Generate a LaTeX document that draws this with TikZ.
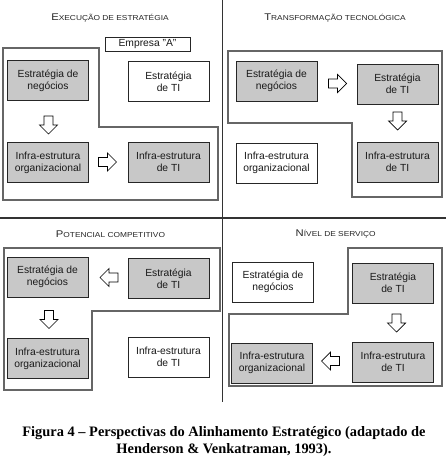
\documentclass[tikz,border=0pt]{standalone}
\usepackage{fontspec}
\usepackage{graphicx}
\setmainfont{Liberation Sans}
\newfontfamily\capfont{Liberation Serif}
\definecolor{boxgray}{RGB}{200,200,200}
\newcommand\smcap[3]{\scalebox{#3}[1]{{\fontsize{9.7}{10}\selectfont #1}{\fontsize{7.2}{8}\selectfont #2}}}
% block arrow: #1 name, #2 centre, #3 rotation (0 = pointing right)
\newcommand\blkarrow[3]{%
  \coordinate (#1) at #2;
  \begin{scope}[shift={(#1)}, rotate=#3]
    \draw[blk] (-9,-4.5) -- (0,-4.5) -- (0,-9) -- (9,0) -- (0,9) -- (0,4.5) -- (-9,4.5) -- cycle;
  \end{scope}}
\begin{document}
\begin{tikzpicture}[x=1pt,y=-1pt,
 box/.style={draw=black!85, line width=0.9pt, minimum width=81pt, minimum height=40pt, inner sep=1pt, align=center, font=\fontsize{10.3}{12}\selectfont, text=black!90},
 gbox/.style={box, fill=boxgray},
 wbox/.style={box, fill=white},
 region/.style={draw=black!60, line width=1.2pt},
 divider/.style={draw=black!80, line width=1.1pt},
 blk/.style={draw=black, line width=0.7pt, fill=white, line join=miter},
 ttl/.style={inner sep=0pt, text=black!85},
 captxt/.style={inner sep=0pt, anchor=base, font=\capfont\bfseries\fontsize{14.4}{17}\selectfont},
]
\useasboundingbox (0,0) rectangle (446,457);
\fill[white] (0,0) rectangle (446,457);

% dividers
\draw[divider] (222.5,0) -- (222.5,402);
\draw[divider] (0,218) -- (446,218);

% regions
\draw[region] (3,48) -- (99,48) -- (99,127) -- (218,127) -- (218,200) -- (3,200) -- cycle;
\draw[region] (228,51) -- (442,51) -- (442,197) -- (352,197) -- (352,123) -- (228,123) -- cycle;
\draw[region] (4,248) -- (220,248) -- (220,311) -- (92,311) -- (92,390) -- (4,390) -- cycle;
\draw[region] (348,248) -- (442,248) -- (442,386) -- (229,386) -- (229,314) -- (348,314) -- cycle;

% titles
\node[ttl] (t1) at (110,18) {\smcap{E}{XECUÇÃO DE ESTRATÉGIA}{1.16}};
\node[ttl] (t2) at (335,18) {\smcap{T}{RANSFORMAÇÃO TECNOLÓGICA}{1.16}};
\node[ttl] (t3) at (110.5,234) {\smcap{P}{OTENCIAL COMPETITIVO}{1.16}};
\node[ttl] (t4) at (335.7,234) {\smcap{N}{ÍVEL DE SERVIÇO}{1.16}};

% quadrant 1
\node[wbox, minimum width=85pt, minimum height=14pt] (emp) at (147.5,44) {Empresa "A"};
\node[gbox] (neg1) at (48,80.5) {Estratégia de\\negócios};
\node[wbox] (ti1) at (168.5,81.5) {Estratégia\\de TI};
\node[gbox] (org1) at (48,162.5) {Infra-estrutura\\organizacional};
\node[gbox] (iti1) at (168.5,162) {Infra-estrutura\\de TI};
\blkarrow{a1d}{(48.5,125)}{-90}
\blkarrow{a1r}{(107.5,162)}{0}

% quadrant 2
\node[gbox] (neg2) at (276.5,81) {Estratégia de\\negócios};
\node[gbox] (ti2) at (397.5,84) {Estratégia\\de TI};
\node[wbox] (org2) at (276.5,163) {Infra-estrutura\\organizacional};
\node[gbox] (iti2) at (397.5,162) {Infra-estrutura\\de TI};
\blkarrow{a2r}{(337.5,83.5)}{0}
\blkarrow{a2d}{(397.5,121)}{-90}

% quadrant 3
\node[gbox] (neg3) at (47.5,277) {Estratégia de\\negócios};
\node[gbox] (ti3) at (168.5,278.5) {Estratégia\\de TI};
\node[gbox] (org3) at (47.5,358.5) {Infra-estrutura\\organizacional};
\node[wbox] (iti3) at (168.5,357) {Infra-estrutura\\de TI};
\blkarrow{a3l}{(109,277.5)}{180}
\blkarrow{a3d}{(49,319.5)}{-90}

% quadrant 4
\node[wbox] (neg4) at (273,282) {Estratégia de\\negócios};
\node[gbox] (ti4) at (393,283) {Estratégia\\de TI};
\node[gbox] (org4) at (272,363) {Infra-estrutura\\organizacional};
\node[gbox] (iti4) at (393,362) {Infra-estrutura\\de TI};
\blkarrow{a4d}{(396.5,323)}{-90}
\blkarrow{a4l}{(330.5,361)}{180}

% caption
\node[captxt] (cap1) at (224,436) {Figura 4 – Perspectivas do Alinhamento Estratégico (adaptado de};
\node[captxt] (cap2) at (224,453) {Henderson \& Venkatraman, 1993).};
\end{tikzpicture}
\end{document}
